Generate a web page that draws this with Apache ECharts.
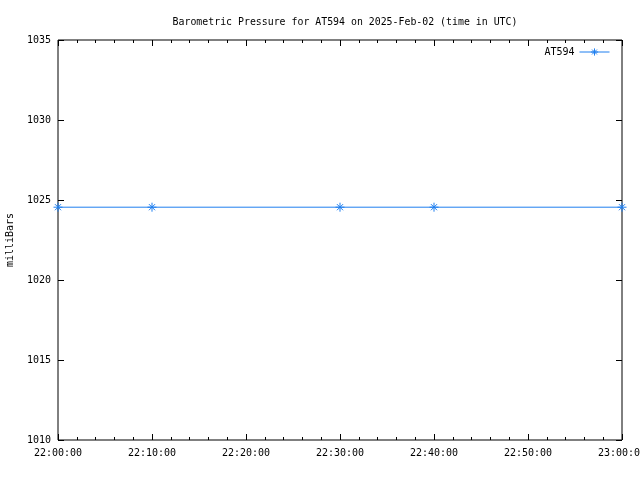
<!DOCTYPE html>
<html><head><meta charset="utf-8">
<script src="https://cdn.jsdelivr.net/npm/echarts@6/dist/echarts.min.js"></script>
<style>html,body{margin:0;padding:0;background:#fff}#c{width:640px;height:480px}</style>
</head><body><div id="c"></div>
<script>
const times = ["22:00:00", "22:10:00", "22:30:00", "22:40:00", "23:00:00"];
const pressure = [1024.55, 1024.55, 1024.55, 1024.55, 1024.55];
const seriesName = "AT594";
const titleText = "Barometric Pressure for AT594 on 2025-Feb-02 (time in UTC)";
const yName = "milliBars";

function toSec(t){const p=t.split(':').map(Number);return p[0]*3600+p[1]*60+p[2];}
function fmt(s){const h=Math.floor(s/3600),m=Math.floor((s%3600)/60),x=s%60;return [h,m,x].map(v=>String(v).padStart(2,'0')).join(':');}
const data = times.map((t,i)=>[toSec(t),pressure[i]]);
const FONT = 'DejaVu Sans Mono';
const BLUE = '#1f7fef';
const star = 'path://M0,5L10,5M5,0L5,10M1.6,1.6L8.4,8.4M1.6,8.4L8.4,1.6';
const chart = echarts.init(document.getElementById('c'));
const axisCommon = {
  axisLine:{show:false},
  splitLine:{show:false},
};
chart.setOption({
  animation:false,
  title:{text:titleText,left:340,textAlign:'center',top:12,textStyle:{fontFamily:FONT,fontSize:9.9,fontWeight:'normal',color:'#000'}},
  grid:{left:58,right:18,top:40,bottom:40,containLabel:false,outerBoundsMode:'none',show:true,borderColor:'#000',borderWidth:1,backgroundColor:'transparent'},
  legend:{right:25,top:42,align:'right',itemWidth:30,itemHeight:9,itemGap:4,
    itemStyle:{color:'rgba(0,0,0,0)',borderColor:BLUE,borderWidth:1},
    lineStyle:{color:BLUE,width:1},
    textStyle:{fontFamily:FONT,fontSize:10,color:'#000'},data:[{name:seriesName}]},
  xAxis:[{
    type:'value',min:toSec("22:00:00"),max:toSec("23:00:00"),interval:600,
    ...axisCommon,
    axisTick:{inside:true,length:6,lineStyle:{color:'#000'}},
    minorTick:{show:true,splitNumber:5,length:3,lineStyle:{color:'#000'}},
    axisLabel:{formatter:v=>fmt(v),fontFamily:FONT,fontSize:10,color:'#000',margin:8,showMaxLabel:true,hideOverlap:false}
  },{
    type:'value',position:'top',min:toSec("22:00:00"),max:toSec("23:00:00"),interval:600,
    ...axisCommon,
    axisTick:{inside:true,length:6,lineStyle:{color:'#000'}},
    minorTick:{show:true,splitNumber:5,length:3,lineStyle:{color:'#000'}},
    axisLabel:{show:false}
  }],
  yAxis:[{
    type:'value',min:1010,max:1035,interval:5,name:yName,nameLocation:'middle',nameGap:43,nameRotate:90,
    nameTextStyle:{fontFamily:FONT,fontSize:10,color:'#000'},
    ...axisCommon,
    axisTick:{inside:true,length:6,lineStyle:{color:'#000'}},
    axisLabel:{formatter:v=>String(v),fontFamily:FONT,fontSize:10,color:'#000',margin:7}
  },{
    type:'value',position:'right',min:1010,max:1035,interval:5,
    ...axisCommon,
    axisTick:{inside:true,length:6,lineStyle:{color:'#000'}},
    axisLabel:{show:false}
  }],
  series:[{
    name:seriesName,type:'line',data:data,xAxisIndex:0,yAxisIndex:0,
    symbol:star,symbolSize:9,showAllSymbol:true,
    lineStyle:{color:BLUE,width:1},
    itemStyle:{color:'rgba(0,0,0,0)',borderColor:BLUE,borderWidth:1},
    emphasis:{disabled:true}
  }]
});
</script></body></html>
